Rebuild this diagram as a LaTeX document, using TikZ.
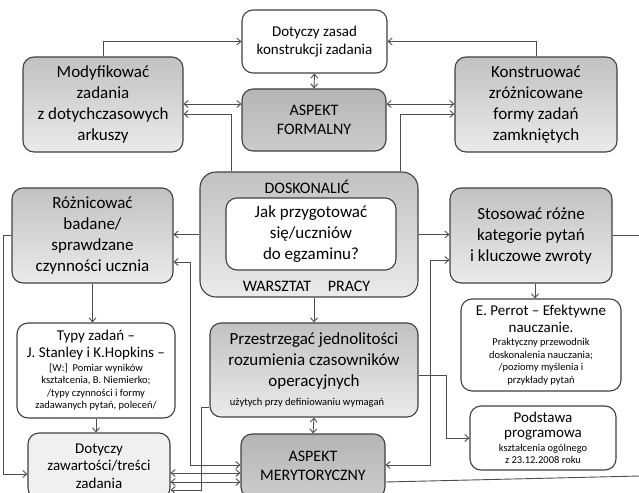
\documentclass[tikz,border=0pt]{standalone}
\usepackage{fontspec}
\setmainfont{Carlito}
\usetikzlibrary{arrows.meta,positioning}

\newcommand{\fbig}{\fontsize{17}{21}\selectfont}
\newcommand{\fmid}{\fontsize{15}{17.5}\selectfont}
\newcommand{\fsmall}{\fontsize{10.5}{12.5}\selectfont}

\tikzset{
  box/.style={draw=black!75, line width=1.1pt, rounded corners=11pt, align=center, inner sep=1pt, font=\fbig},
  whitebox/.style={box, fill=white},
  graybox/.style={box, top color=gray!48, bottom color=gray!16},
  aspectbox/.style={box, top color=gray!58, bottom color=gray!40, font=\fontsize{16}{18.5}\selectfont},
  lightbox/.style={box, fill=gray!12, font=\fmid},
  conn/.style={draw=black!70, line width=0.9pt},
  arr/.style={conn, -{Straight Barb[length=4pt,width=7pt]}},
  darr/.style={conn, {Straight Barb[length=4pt,width=7pt]}-{Straight Barb[length=4pt,width=7pt]}},
}

\begin{document}
\begin{tikzpicture}[x=1pt,y=-1pt]
  \clip (0,0) rectangle (639,492);

  % top row
  \node[whitebox, font=\fmid, minimum width=145pt, minimum height=63pt] (zasady) at (314.5,41.5) {Dotyczy zasad\\konstrukcji zadania};
  \node[graybox, minimum width=160pt, minimum height=95pt] (modyf) at (103,104.5) {Modyfikować\\zadania\\z dotychczasowych\\arkuszy};
  \node[aspectbox, minimum width=144pt, minimum height=62pt] (formal) at (314,120) {ASPEKT\\FORMALNY};
  \node[graybox, minimum width=162pt, minimum height=95pt] (konstr) at (536,104.5) {Konstruować\\zróżnicowane\\formy zadań\\zamkniętych};

  % middle row
  \node[graybox, rounded corners=16pt, minimum width=218pt, minimum height=125pt] (doskon) at (309,234.5) {};
  \node[font=\fontsize{16}{18}\selectfont] (doskt) at (307,187) {DOSKONALIĆ};
  \node[whitebox, minimum width=170pt, minimum height=72pt] (pytanie) at (311,234) {Jak przygotować\\się/uczniów\\do egzaminu?};
  \node[font=\fontsize{16}{18}\selectfont] (warsz) at (277,286) {WARSZTAT};
  \node[font=\fontsize{16}{18}\selectfont] (pracy) at (349,286) {PRACY};
  \node[graybox, minimum width=161pt, minimum height=95pt] (roznic) at (92.5,235.5) {Różnicować\\badane/\\sprawdzane\\czynności ucznia};
  \node[graybox, minimum width=162pt, minimum height=95pt] (stosow) at (531,235.5) {Stosować różne\\kategorie pytań\\i kluczowe zwroty};

  % lower rows
  \node[whitebox, font=\fsmall, minimum width=158pt, minimum height=95pt] (typy) at (96,370.5)
    {\fmid Typy zadań –\\[3pt]\fmid J. Stanley i K.Hopkins –\\[1pt][W:]\ \ Pomiar wyników\\kształcenia, B. Niemierko;\\/typy czynności i formy\\zadawanych pytań, poleceń/};
  \node[graybox, minimum width=208pt, minimum height=94pt] (przestrz) at (314,370)
    {Przestrzegać jednolitości\\rozumienia czasowników\\operacyjnych\\[-2pt]\hspace*{-14pt}\fontsize{10.5}{12}\selectfont użytych przy definiowaniu wymagań};
  \node[whitebox, font=\fsmall, minimum width=160pt, minimum height=92pt] (perrot) at (541,345)
    {\fmid E. Perrot – Efektywne\\[3pt]\fmid nauczanie.\\[1pt]Praktyczny przewodnik\\doskonalenia nauczania;\\/poziomy myślenia i\\przykłady pytań};
  \node[whitebox, font=\fsmall, minimum width=146pt, minimum height=64pt] (podst) at (543,438)
    {\fmid Podstawa\\[3pt]\fmid programowa\\[1pt]kształcenia ogólnego\\z 23.12.2008 roku};
  \node[lightbox, minimum width=142pt, minimum height=66pt] (zawart) at (99,466) {Dotyczy\\zawartości/treści\\zadania};
  \node[aspectbox, minimum width=144pt, minimum height=64pt] (meryt) at (313,466) {ASPEKT\\MERYTORYCZNY};

  \coordinate (edgeA) at (640,235.5);
  \coordinate (edgeB) at (640,476);

  % connectors
  \draw[arr] (modyf.north) |- (zasady.west);
  \draw[arr] (konstr.north) |- (zasady.east);
  \draw[darr] (zasady.south) -- (formal.north);
  \draw[darr] (modyf.east |- 0,104) -- (formal.west |- 0,104);
  \draw[darr] (formal.east |- 0,104) -- (konstr.west |- 0,104);
  \draw[arr] (doskon.north -| 231,0) |- (modyf.east |- 0,114);
  \draw[arr] (doskon.north -| 400,0) |- (konstr.west |- 0,114);
  \draw[arr] (doskon.west) -- (roznic.east |- doskon.west);
  \draw[arr] (doskon.east) -- (stosow.west |- doskon.east);
  \draw[conn] (stosow.east) -- (edgeA);
  \draw[arr] (doskon.south -| przestrz.north) -- (przestrz.north);
  \draw[darr] (przestrz.south) -- (meryt.north);
  \draw[arr] (stosow.south -| 535,0) -- (perrot.north -| 535,0);
  \draw[arr] (roznic.south) -- (roznic.south |- typy.north);
  \draw[arr] (typy.south) -- (typy.south |- zawart.north);
  \draw[arr] (roznic.west) -| (3,474) -- (zawart.west |- 0,474);
  \draw[darr] (roznic.east |- 0,262) -| (190,465) -- (meryt.west |- 0,465);
  \draw[darr] (zawart.east |- 0,473) -- (meryt.west |- 0,473);
  \draw[darr] (zawart.east |- 0,482) -- (meryt.west |- 0,482);
  \draw[arr] (przestrz.west |- 0,407) -| (201,490) -- (zawart.east |- 0,490);
  \draw[arr] (przestrz.east |- 0,375) -| (446,438) -- (podst.west);
  \draw[darr] (stosow.west |- 0,260) -| (430,465) -- (meryt.east |- 0,465);
  \draw[conn] (meryt.east |- 0,482) -- (edgeB);
\end{tikzpicture}
\end{document}
